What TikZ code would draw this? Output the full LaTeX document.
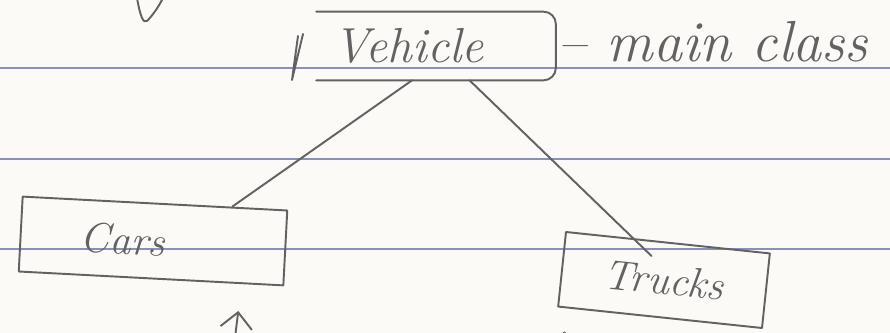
\documentclass[tikz,border=0pt]{standalone}
\usepackage{fontspec}
\usepackage{tikz}
\usetikzlibrary{arrows.meta, positioning, calc}

\definecolor{paper}{HTML}{FBFAF7}
\definecolor{ruleblue}{HTML}{8C90B8}
\definecolor{pencil}{HTML}{626262}

\begin{document}
\begin{tikzpicture}[
  x=0.02cm, y=-0.02cm,
  every node/.style={text=pencil},
  hand/.style={font=\fontsize{#1}{#1}\selectfont\itshape},
  pen/.style={draw=pencil, line width=1.1pt, line cap=round, line join=round},
  ruled/.style={draw=ruleblue, line width=0.9pt},
  classbox/.style={rectangle, inner ysep=0pt, align=left},
  hand arrow/.style={pen, -{Straight Barb[length=9pt, width=18pt, line width=1.1pt]}}
]
  % sheet of ruled paper
  \useasboundingbox (0,0) rectangle (890,333);
  \clip (0,0) rectangle (890,333);
  \fill[paper] (0,0) rectangle (890,333);
  \foreach \y in {68,159,249}
    \draw[ruled] (0,\y) -- (890,\y);

  % classes
  \node[classbox, hand=28, text width=41mm, inner xsep=3.4mm, minimum height=13.6mm]
    (veh) at (436,46) {Vehicle};
  \node[classbox, hand=24, rotate=-3, text width=29mm, inner xsep=12mm,
        minimum height=15mm, pen] (cars) at (153,241) {Cars};
  \node[classbox, hand=24, rotate=-6, align=center, minimum width=41mm,
        minimum height=15mm, pen] (trk) at (664,280) {Trucks};
  \node[hand=33, anchor=base west, inner xsep=0.3mm]
    (note) at ($(veh.east)+(0,16)$) {-- main class};

  % open box round Vehicle and the marks
  \draw[pen, rounded corners=7pt] (veh.north west) -- (veh.north east)
    -- (veh.south east) -- (veh.south west);
  \draw[pen] (303,34) -- (292,80) -- (298,36);
  \draw[pen] (137,-2) .. controls (140,15) and (143,24) .. (147,21)
    .. controls (152,16) and (158,8) .. (163,-2);

  % inheritance lines
  \draw[pen] ($(cars.north west)!0.79!(cars.north east)$)
    -- ($(veh.south west)!0.4!(veh.south east)$);
  \draw[pen] ($(veh.south west)!0.64!(veh.south east)$)
    -- ($(trk.north west)!0.42!(trk.north east)+(0,16)$);

  % arrows coming up from below
  \coordinate (carsfoot) at (231,370);
  \coordinate (trkfoot) at (563,375);
  \draw[hand arrow, shorten >=5.4mm] (carsfoot)
    -- ($(cars.south west)!0.84!(cars.south east)$);
  \draw[hand arrow, shorten >=4.6mm] (trkfoot)
    -- ($(trk.south west)!0.04!(trk.south east)$);
\end{tikzpicture}
\end{document}
